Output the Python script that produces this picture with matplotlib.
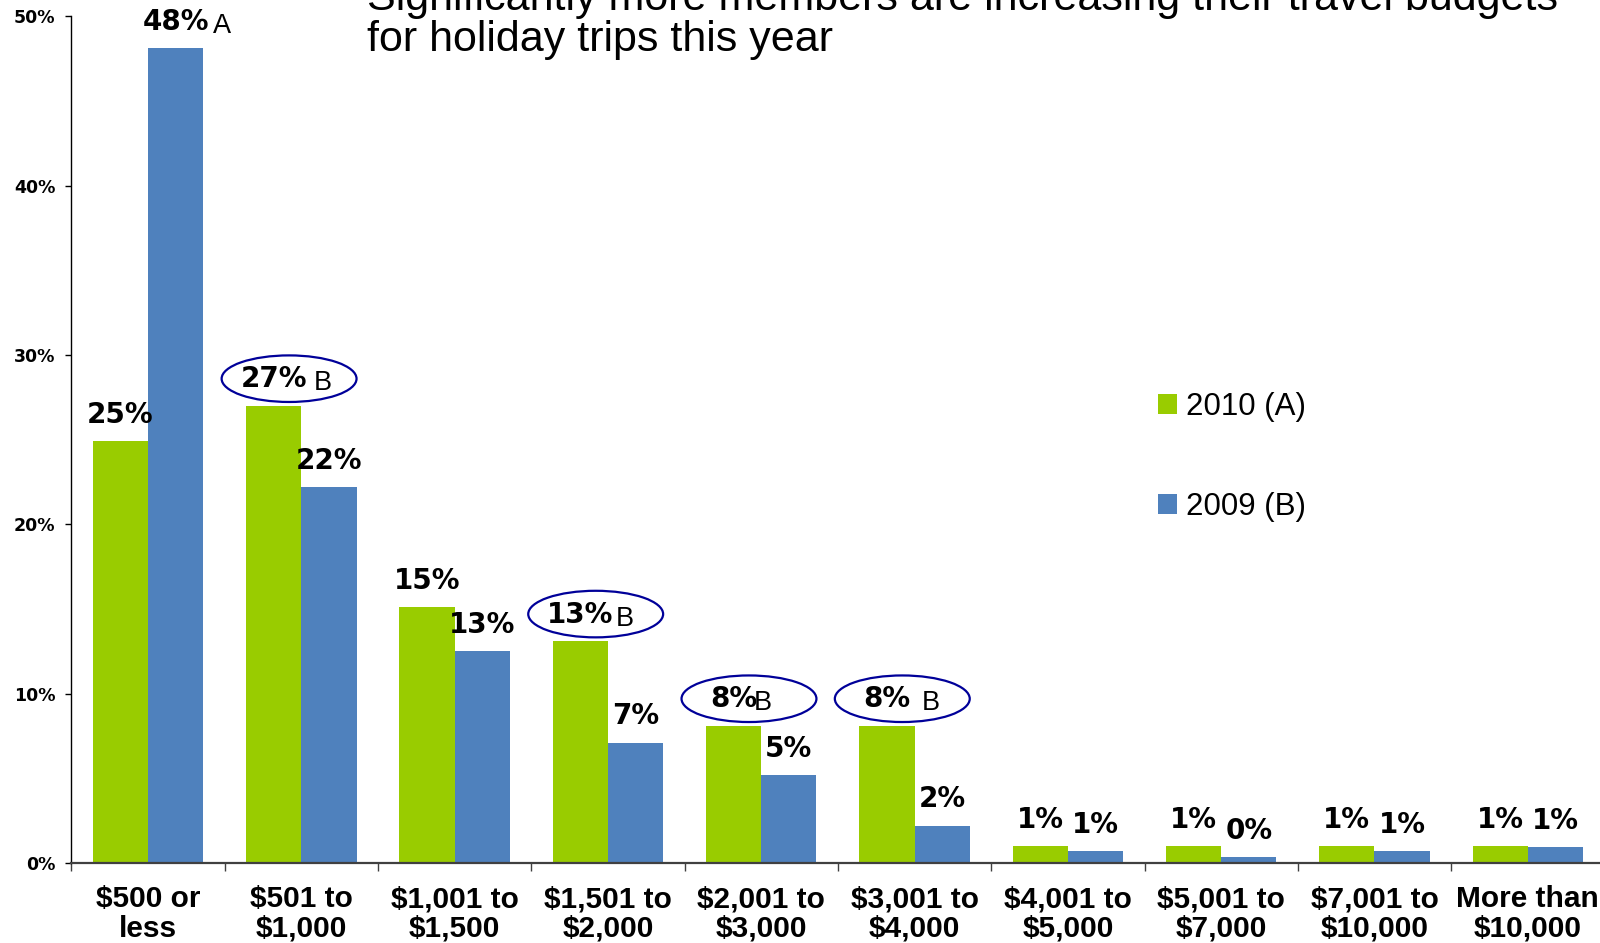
import matplotlib
matplotlib.use("Agg")
import matplotlib.pyplot as plt
from matplotlib.patches import Ellipse
import numpy as np

categories = ["$500 or\nless", "$501 to\n$1,000", "$1,001 to\n$1,500", "$1,501 to\n$2,000",
              "$2,001 to\n$3,000", "$3,001 to\n$4,000", "$4,001 to\n$5,000", "$5,001 to\n$7,000",
              "$7,001 to\n$10,000", "More than\n$10,000"]
vals_2010 = [24.9, 27.0, 15.1, 13.1, 8.1, 8.1, 1.0, 1.0, 1.0, 1.0]
vals_2009 = [48.1, 22.2, 12.5, 7.1, 5.2, 2.2, 0.7, 0.35, 0.7, 0.95]
labels_2010 = ["25%", "27%", "15%", "13%", "8%", "8%", "1%", "1%", "1%", "1%"]
labels_2009 = ["48%", "22%", "13%", "7%", "5%", "2%", "1%", "0%", "1%", "1%"]
suffix_2010 = ["", "B", "", "B", "B", "B", "", "", "", ""]
suffix_2009 = ["A", "", "", "", "", "", "", "", "", ""]
circled_2010 = [1, 3, 4, 5]
yticks = [0, 10, 20, 30, 40, 50]
series_names = ["2010 (A)", "2009 (B)"]
title_lines = ["Significantly more members are increasing their travel budgets",
               "for holiday trips this year"]

GREEN = "#99CC00"
BLUE = "#4F81BD"
NAVY = "#000099"

fig = plt.figure(figsize=(16, 9.43), dpi=100)
ax = fig.add_axes([71.4 / 1600, 80 / 943, 1533 / 1600, 846.7 / 943])

x = np.arange(len(categories))
w = 0.36
b1 = ax.bar(x - w / 2, vals_2010, width=w, color=GREEN, label=series_names[0], zorder=2)
b2 = ax.bar(x + w / 2, vals_2009, width=w, color=BLUE, label=series_names[1], zorder=2)

ax.set_xlim(-0.5, len(categories) - 0.5)
ax.set_ylim(0, 50)

# spines
for s in ["top", "right"]:
    ax.spines[s].set_visible(False)
ax.spines["left"].set_color("black")
ax.spines["left"].set_linewidth(1.0)
ax.spines["bottom"].set_color("#404040")
ax.spines["bottom"].set_linewidth(1.6)

# y ticks
ax.set_yticks(yticks)
ax.set_yticklabels([f"{t}%" for t in yticks], fontsize=12.5, fontweight="bold", family="DejaVu Sans")
ax.tick_params(axis="y", direction="out", length=4.5, width=1, pad=7)

# x ticks: labels at centres, marks at boundaries
ax.set_xticks(x)
ax.set_xticklabels(categories, fontsize=21.5, fontweight="bold", family="Liberation Sans", linespacing=1.08)
ax.tick_params(axis="x", which="major", length=0, pad=16)
ax.set_xticks(np.arange(-0.5, len(categories), 1.0), minor=True)
ax.tick_params(axis="x", which="minor", direction="out", length=6, width=1, color="#404040")

def add_label(xc, v, lbl, suf, gap):
    t = ax.annotate(lbl, xy=(xc, v), xytext=(0, 19), textcoords="offset points",
                    ha="center", va="center", fontsize=20, fontweight="bold",
                    family="DejaVu Sans", zorder=4)
    if suf:
        ax.annotate(suf, xy=(1, 0), xycoords=t, xytext=(gap, -2), textcoords="offset points",
                    ha="left", va="bottom", fontsize=19.5, family="Liberation Sans", zorder=4)
    return t

gaps_2010 = {1: 5, 3: 1.5, 4: -2.5, 5: 8}
for i in range(len(categories)):
    add_label(x[i] - w / 2, vals_2010[i], labels_2010[i], suffix_2010[i], gaps_2010.get(i, 3))
    add_label(x[i] + w / 2, vals_2009[i], labels_2009[i], suffix_2009[i], 3)

for i in circled_2010:
    e = Ellipse((x[i] - w / 2 + 0.1, vals_2010[i] + 1.6), width=0.88, height=2.75,
                fill=False, edgecolor=NAVY, linewidth=1.6, zorder=5)
    ax.add_patch(e)

# legend
ax.legend(handles=[b1, b2], labels=series_names, loc="upper left",
          bbox_to_anchor=(1158 / 1600, 1 - 392 / 943), bbox_transform=fig.transFigure,
          frameon=False, prop={"family": "Liberation Sans", "size": 22.5},
          handlelength=0.6, handleheight=0.6, handletextpad=0.3, labelspacing=2.25,
          borderpad=0, borderaxespad=0)

# title (top line partially cut off in the original)
fig.text(367 / 1600, 1 - 10 / 943, title_lines[0], fontsize=31, family="Liberation Sans",
         ha="left", va="baseline")
fig.text(367 / 1600, 1 - 51 / 943, title_lines[1], fontsize=31, family="Liberation Sans",
         ha="left", va="baseline")

fig.savefig("out.png", dpi=100)
